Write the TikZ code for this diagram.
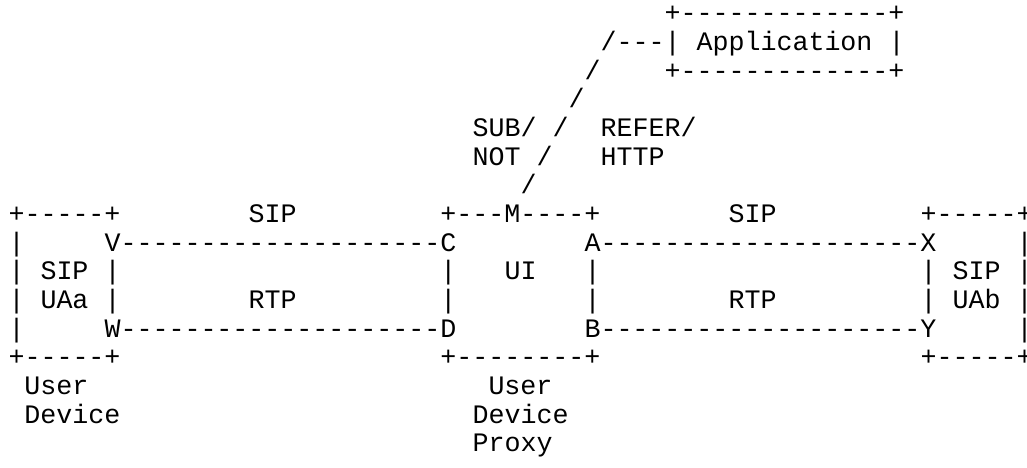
\documentclass[tikz,border=0pt]{standalone}
\usepackage{fontspec}
\setmonofont{Liberation Mono}
\tikzset{
  asciitxt/.style={anchor=base west, inner sep=0pt, outer sep=0pt,
    font=\ttfamily\fontsize{10pt}{10.75pt}\selectfont, text=black}
}
% #1 name, #2 column, #3 row, #4 text
\newcommand\asc[4]{\node[asciitxt] (#1) at ({3.1875pt+6pt*#2},{-8.25pt-10.75pt*#3}) {#4};}
\begin{document}
\begin{tikzpicture}
\fill[white] (0,0) rectangle (385.125pt,-175.5pt);
\useasboundingbox (0,0) rectangle (385.125pt,-175.5pt);
% application box and link
\asc{apptop}{41}{0}{+-------------+}
\asc{applink}{37}{1}{/---|}
\asc{app}{43}{1}{Application}
\asc{appr}{55}{1}{|}
\asc{sl2}{36}{2}{/}
\asc{appbot}{41}{2}{+-------------+}
\asc{sl3}{35}{3}{/}
\asc{sub}{29}{4}{SUB/}
\asc{sl4}{34}{4}{/}
\asc{refer}{37}{4}{REFER/}
\asc{not}{29}{5}{NOT}
\asc{sl5}{33}{5}{/}
\asc{http}{37}{5}{HTTP}
\asc{sl6}{32}{6}{/}
% top row
\asc{uaatop}{0}{7}{+-----+}
\asc{sipl}{15}{7}{SIP}
\asc{udptop}{27}{7}{+---M----+}
\asc{sipr}{45}{7}{SIP}
\asc{uabtop}{57}{7}{+-----+}
% row 8
\asc{b8a}{0}{8}{|}
\asc{vc}{6}{8}{V--------------------C}
\asc{ax}{36}{8}{A--------------------X}
\asc{b8b}{63}{8}{|}
% row 9
\asc{b9a}{0}{9}{|}
\asc{sipa}{2}{9}{SIP}
\asc{b9b}{6}{9}{|}
\asc{b9c}{27}{9}{|}
\asc{ui}{31}{9}{UI}
\asc{b9d}{36}{9}{|}
\asc{b9e}{57}{9}{|}
\asc{sipb}{59}{9}{SIP}
\asc{b9f}{63}{9}{|}
% row 10
\asc{b10a}{0}{10}{|}
\asc{uaa}{2}{10}{UAa}
\asc{b10b}{6}{10}{|}
\asc{rtpl}{15}{10}{RTP}
\asc{b10c}{27}{10}{|}
\asc{b10d}{36}{10}{|}
\asc{rtpr}{45}{10}{RTP}
\asc{b10e}{57}{10}{|}
\asc{uab}{59}{10}{UAb}
\asc{b10f}{63}{10}{|}
% row 11
\asc{b11a}{0}{11}{|}
\asc{wd}{6}{11}{W--------------------D}
\asc{by}{36}{11}{B--------------------Y}
\asc{b11b}{63}{11}{|}
% bottom row
\asc{uaabot}{0}{12}{+-----+}
\asc{udpbot}{27}{12}{+--------+}
\asc{uabbot}{57}{12}{+-----+}
% captions
\asc{user1}{1}{13}{User}
\asc{user2}{30}{13}{User}
\asc{dev1}{1}{14}{Device}
\asc{dev2}{29}{14}{Device}
\asc{proxy}{29}{15}{Proxy}
\end{tikzpicture}
\end{document}
